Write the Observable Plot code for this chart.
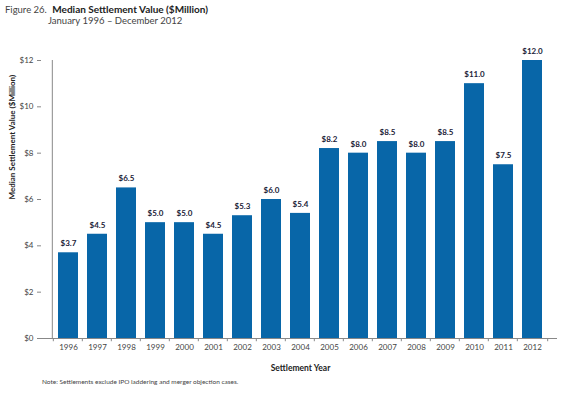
<!DOCTYPE html>
<html><head><meta charset="utf-8">
<script src="https://cdn.jsdelivr.net/npm/d3@7"></script>
<script src="https://cdn.jsdelivr.net/npm/@observablehq/plot@0.6"></script>
<style>
body{margin:0;background:#fff;font-family:Lato,"Open Sans",sans-serif;}
#wrap{position:relative;width:566px;height:393px;}
#t1{position:absolute;left:5px;top:3px;font-size:9.5px;color:#444;white-space:nowrap;}
#t1 b{color:#222;margin-left:3px;font-size:10px;}
#t2{position:absolute;left:48px;top:15px;font-size:9.5px;color:#444;}
#note{position:absolute;left:42px;top:378px;font-size:6.5px;color:#444;}
#chart{position:absolute;left:0;top:0;}
</style></head><body>
<div id="wrap">
<div id="chart"></div>
<div id="t1">Figure 26. <b>Median Settlement Value ($Million)</b></div>
<div id="t2">January 1996 – December 2012</div>
<div id="note">Note: Settlements exclude IPO laddering and merger objection cases.</div>
</div>
<script>
const years = ["1996","1997","1998","1999","2000","2001","2002","2003","2004","2005","2006","2007","2008","2009","2010","2011","2012"];
const values = [3.7,4.5,6.5,5.0,5.0,4.5,5.3,6.0,5.4,8.2,8.0,8.5,8.0,8.5,11.0,7.5,12.0];
const yTicks = [0,2,4,6,8,10,12];
const data = years.map((y,i)=>({year:y,value:values[i]}));

const W = 566, H = 393, mL = 42, mR = 8;
const step = (W - mL - mR) / years.length;

const chart = Plot.plot({
  width: W, height: H,
  marginTop: 60, marginBottom: 55, marginLeft: mL, marginRight: mR,
  style: {fontFamily: "Lato, 'Open Sans', sans-serif", background: "transparent"},
  x: {domain: years, padding: 0.3, label: null},
  y: {domain: [0, 12], label: null},
  marks: [
    Plot.barY(data, {x: "year", y: "value", fill: "#0866a8"}),
    Plot.ruleY([0], {stroke: "#888", strokeWidth: 1, dx: -1}),
    Plot.ruleX(years, {x: d => d, y1: 0, y2: -0.14, dx: -step/2, stroke: "#888", clip: false}),
    Plot.ruleX([years[years.length-1]], {x: d => d, y1: 0, y2: -0.14, dx: step/2, stroke: "#888", clip: false}),
    Plot.ruleX([years[0]], {x: d => d, y1: 0, y2: 12, dx: -step/2 - 1, stroke: "#888"}),
    Plot.axisX({tickSize: 0, tickPadding: 6, fontSize: 8, fill: "#444", label: null}),
    Plot.axisY({ticks: yTicks, tickFormat: d => "$" + d, tickSize: 4, tickPadding: 4, dx: -1, fontSize: 8, fill: "#444", stroke: "#888", label: null}),
    Plot.text(data, {x: "year", y: "value", text: d => "$" + d.value.toFixed(1), dy: -9, fontSize: 8, fontWeight: "bold", fill: "#1b2238"}),
    Plot.text(["Settlement Year"], {frameAnchor: "bottom", dy: 32, fontSize: 8.5, fontWeight: "bold", fill: "#222"}),
    Plot.text(["Median Settlement Value ($Million)"], {frameAnchor: "left", dx: -30, rotate: -90, fontSize: 8, fontWeight: "bold", fill: "#222"})
  ]
});
document.getElementById("chart").appendChild(chart);
</script>
</body></html>
